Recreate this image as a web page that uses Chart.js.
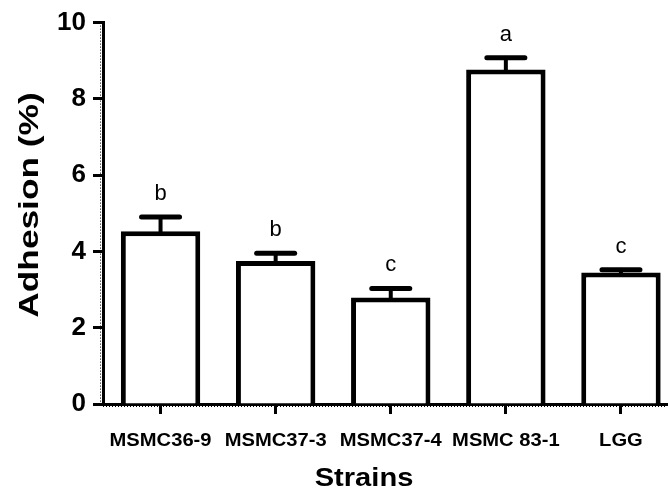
<!DOCTYPE html>
<html>
<head>
<meta charset="utf-8">
<script src="https://cdn.jsdelivr.net/npm/chart.js@4.4.1/dist/chart.umd.min.js"></script>
<style>
    html, body { margin: 0; padding: 0; background: #ffffff; }
    #wrap { width: 669px; height: 491px; }
</style>
</head>
<body>
<div id="wrap"><canvas id="adhesionChart" width="669" height="491"></canvas></div>
<script>
const strains   = ["MSMC36-9", "MSMC37-3", "MSMC37-4", "MSMC 83-1", "LGG"];
const adhesion  = [4.53, 3.75, 2.79, 8.77, 3.45];
const errors    = [0.37, 0.20, 0.24, 0.31, 0.07];
const letters   = ["b", "b", "c", "a", "c"];
const yTicks    = [0, 2, 4, 6, 8, 10];

const FONT = "'Liberation Sans', Arial, Helvetica, sans-serif";

// draws text squeezed/stretched along its own direction
function wideText(ctx, text, x, y, sx, rotated){
    ctx.save();
    ctx.translate(x, y);
    if(rotated) ctx.rotate(-Math.PI / 2);
    ctx.scale(sx, 1);
    ctx.fillText(text, 0, 0);
    ctx.restore();
}

// SEM whiskers and significance letters on top of each bar
const errorBars = {
    id: "errorBars",
    afterDatasetsDraw(chart){
        const ctx  = chart.ctx;
        const y    = chart.scales.y;
        const bars = chart.getDatasetMeta(0).data;

        ctx.save();
        ctx.strokeStyle = "#000";
        ctx.fillStyle   = "#000";
        ctx.lineCap     = "round";

        bars.forEach((bar, i) => {
            const top = y.getPixelForValue(adhesion[i] + errors[i]);

            ctx.lineWidth = 4;
            ctx.beginPath();
            ctx.moveTo(bar.x, bar.y);
            ctx.lineTo(bar.x, top);
            ctx.stroke();

            ctx.lineWidth = 5;
            ctx.beginPath();
            ctx.moveTo(bar.x - 19, top);
            ctx.lineTo(bar.x + 19, top);
            ctx.stroke();

            ctx.font         = "22px " + FONT;
            ctx.textAlign    = "center";
            ctx.textBaseline = "alphabetic";
            ctx.fillText(letters[i], bar.x, top - 17);
        });
        ctx.restore();
    }
};

// category names under the ticks and both axis titles
const axisText = {
    id: "axisText",
    afterDraw(chart){
        const ctx  = chart.ctx;
        const x    = chart.scales.x;
        const area = chart.chartArea;

        ctx.save();
        ctx.fillStyle    = "#000";
        ctx.textAlign    = "center";
        ctx.textBaseline = "alphabetic";

        ctx.font = "bold 18px " + FONT;
        strains.forEach((name, i) => {
            wideText(ctx, name, x.getPixelForValue(i), 446, 1.12, false);
        });

        ctx.font = "bold 26px " + FONT;
        wideText(ctx, "Strains", 364, 486, 1.12, false);

        ctx.font = "bold 28px " + FONT;
        ctx.textBaseline = "middle";
        wideText(ctx, "Adhesion (%)", 30, 205, 1.26, true);

        // fine hatching along both axis lines
        ctx.strokeStyle = "#000";
        ctx.lineWidth   = 1;
        ctx.setLineDash([1, 2]);
        ctx.beginPath();
        ctx.moveTo(area.left, area.bottom + 2.5);
        ctx.lineTo(area.right, area.bottom + 2.5);
        ctx.moveTo(area.left - 2.5, area.top);
        ctx.lineTo(area.left - 2.5, area.bottom);
        ctx.stroke();
        ctx.restore();
    }
};

new Chart(document.getElementById("adhesionChart"), {
    type: "bar",
    data: {
        datasets: [{
            data: adhesion.map((v, i) => ({ x: i, y: v })),
            backgroundColor: "#ffffff",
            borderColor: "#000000",
            borderWidth: 5,
            borderSkipped: "bottom",
            barPercentage: 0.69,
            categoryPercentage: 1
        }]
    },
    options: {
        responsive: false,
        animation: false,
        layout: { padding: { top: 22, right: 2, left: 0, bottom: 0 } },
        plugins: {
            legend:  { display: false },
            tooltip: { enabled: false }
        },
        scales: {
            x: {
                type: "linear",
                min: -0.5,
                max: 4.4,
                offset: false,
                afterBuildTicks(scale){
                    scale.ticks = strains.map((_, i) => ({ value: i }));
                },
                afterFit(scale){ scale.height = 87; },
                ticks: { display: false },
                grid: {
                    offset: false,
                    drawOnChartArea: false,
                    drawTicks: true,
                    tickLength: 10,
                    tickWidth: 3,
                    tickColor: "#000"
                },
                border: { display: true, color: "#000", width: 3 }
            },
            y: {
                min: 0,
                max: 10,
                afterBuildTicks(scale){
                    scale.ticks = yTicks.map(v => ({ value: v }));
                },
                afterFit(scale){ scale.width = 103; },
                ticks: {
                    color: "#000",
                    font: { family: FONT, size: 26, weight: "bold" },
                    padding: 7
                },
                grid: {
                    drawOnChartArea: false,
                    drawTicks: true,
                    tickLength: 10,
                    tickWidth: 3,
                    tickColor: "#000"
                },
                border: { display: true, color: "#000", width: 3 }
            }
        }
    },
    plugins: [errorBars, axisText]
});
</script>
</body>
</html>
